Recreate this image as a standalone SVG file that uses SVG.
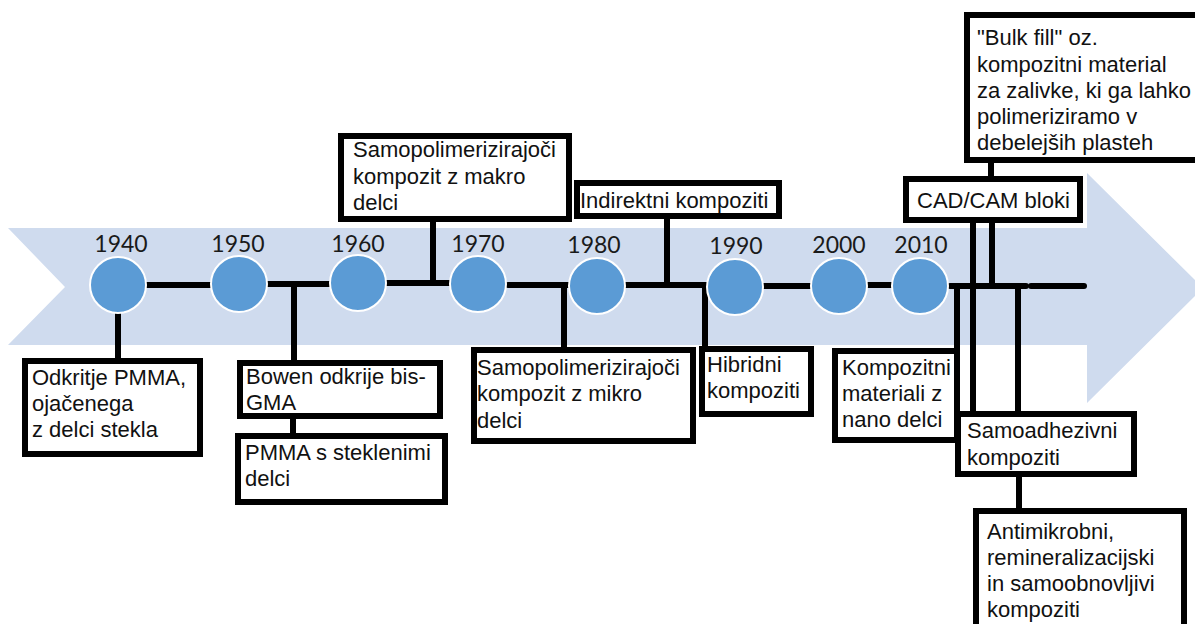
<svg xmlns="http://www.w3.org/2000/svg" width="1195" height="624" viewBox="0 0 1195 624">
<style>
.band{fill:#cfdbee}
.dot{fill:#5b9bd5;stroke:#ffffff;stroke-width:2}
.yr{font-family:Lato,"Open Sans",sans-serif;font-size:23px;fill:#1a1a1a;text-anchor:middle}
.box{fill:#ffffff;stroke:#000000;stroke-width:6}
.t{font-family:"Liberation Sans",Arial,sans-serif;font-size:22px;fill:#111111}
.ln{stroke:#000000;stroke-width:6;fill:none;stroke-linecap:round}
.vl{stroke:#000000;stroke-width:6;fill:none}
</style>
<rect width="1195" height="624" fill="#ffffff"/>
<polygon class="band" points="8,228 1087,228 1087,173 1203,288 1087,403 1087,345 8,345 65,287"/>
<g id="connectors">
<line class="ln" x1="147" y1="285" x2="215" y2="285"/>
<line class="ln" x1="265" y1="284" x2="335" y2="284"/>
<line class="ln" x1="385" y1="283" x2="453" y2="283"/>
<line class="ln" x1="508" y1="285" x2="570" y2="285"/>
<line class="ln" x1="623" y1="285" x2="708" y2="285"/>
<line class="ln" x1="762" y1="286" x2="810" y2="286"/>
<line class="ln" x1="868" y1="285" x2="895" y2="285"/>
<line class="ln" x1="950" y1="286" x2="1026" y2="286"/>
<line class="ln" x1="1031" y1="286" x2="1084" y2="286"/>
<line class="vl" x1="118" y1="312" x2="118" y2="360"/>
<line class="vl" x1="294" y1="284" x2="294" y2="361"/>
<line class="vl" x1="293" y1="418" x2="293" y2="435"/>
<line class="vl" x1="433" y1="283" x2="433" y2="220"/>
<line class="vl" x1="667" y1="285" x2="667" y2="218"/>
<line class="vl" x1="564" y1="285" x2="564" y2="348"/>
<line class="vl" x1="705" y1="285" x2="705" y2="348"/>
<line class="vl" x1="957" y1="286" x2="957" y2="349"/>
<line class="vl" x1="973" y1="222" x2="973" y2="412"/>
<line class="vl" x1="992" y1="222" x2="992" y2="288"/>
<line class="vl" x1="991" y1="162" x2="991" y2="177"/>
<line class="vl" x1="1018" y1="286" x2="1018" y2="412"/>
<line class="vl" x1="1019" y1="476" x2="1019" y2="509"/>
</g>
<g id="y1940"><circle class="dot" cx="118" cy="285" r="28"/><text class="yr" x="121" y="252">1940</text></g>
<g id="y1950"><circle class="dot" cx="239" cy="284" r="28"/><text class="yr" x="238" y="252">1950</text></g>
<g id="y1960"><circle class="dot" cx="358" cy="283" r="28"/><text class="yr" x="358" y="252">1960</text></g>
<g id="y1970"><circle class="dot" cx="478" cy="284" r="28"/><text class="yr" x="478" y="252">1970</text></g>
<g id="y1980"><circle class="dot" cx="597" cy="286" r="28"/><text class="yr" x="594" y="253">1980</text></g>
<g id="y1990"><circle class="dot" cx="735" cy="287" r="28"/><text class="yr" x="736" y="254">1990</text></g>
<g id="y2000"><circle class="dot" cx="839" cy="286" r="28"/><text class="yr" x="839" y="253">2000</text></g>
<g id="y2010"><circle class="dot" cx="920" cy="286" r="28"/><text class="yr" x="921" y="253">2010</text></g>
<g id="n-pmma">
<rect class="box" x="25" y="361" width="175" height="93"/>
<text class="t" x="32" y="385">Odkritje PMMA,</text>
<text class="t" x="32" y="411">ojačenega</text>
<text class="t" x="32" y="437">z delci stekla</text>
</g>
<g id="n-bowen">
<rect class="box" x="240" y="363" width="200" height="53"/>
<text class="t" x="246" y="384">Bowen odkrije bis-</text>
<text class="t" x="246" y="410">GMA</text>
</g>
<g id="n-pmma-s">
<rect class="box" x="238" y="436" width="207" height="66"/>
<text class="t" x="245" y="460">PMMA s steklenimi</text>
<text class="t" x="245" y="486">delci</text>
</g>
<g id="n-makro">
<rect class="box" x="341" y="136" width="228" height="83"/>
<text class="t" x="353" y="157">Samopolimerizirajoči</text>
<text class="t" x="353" y="184">kompozit z makro</text>
<text class="t" x="353" y="210">delci</text>
</g>
<g id="n-indirektni">
<rect class="box" x="577" y="183" width="202" height="33"/>
<text class="t" x="580" y="208">Indirektni kompoziti</text>
</g>
<g id="n-mikro">
<rect class="box" x="474" y="350" width="219" height="91"/>
<text class="t" x="477" y="375">Samopolimerizirajoči</text>
<text class="t" x="477" y="401">kompozit z mikro</text>
<text class="t" x="477" y="428">delci</text>
</g>
<g id="n-hibridni">
<rect class="box" x="702" y="349" width="109" height="65"/>
<text class="t" x="707" y="372">Hibridni</text>
<text class="t" x="707" y="398">kompoziti</text>
</g>
<g id="n-nano">
<rect class="box" x="835" y="351" width="122" height="89"/>
<text class="t" x="842" y="375">Kompozitni</text>
<text class="t" x="842" y="401">materiali z</text>
<text class="t" x="842" y="427">nano delci</text>
</g>
<g id="n-cadcam">
<rect class="box" x="906" y="179" width="174" height="41"/>
<text class="t" x="917" y="208">CAD/CAM bloki</text>
</g>
<g id="n-bulk">
<rect class="box" x="967" y="15" width="236" height="145"/>
<text class="t" x="977" y="45">"Bulk fill" oz.</text>
<text class="t" x="977" y="72">kompozitni material</text>
<text class="t" x="977" y="98">za zalivke, ki ga lahko</text>
<text class="t" x="977" y="124">polimeriziramo v</text>
<text class="t" x="977" y="150">debelejših plasteh</text>
</g>
<g id="n-samoadhezivni">
<rect class="box" x="958" y="414" width="176" height="60"/>
<text class="t" x="967" y="438">Samoadhezivni</text>
<text class="t" x="967" y="465">kompoziti</text>
</g>
<g id="n-antimikrobni">
<rect class="box" x="976" y="511" width="208" height="125"/>
<text class="t" x="987" y="539">Antimikrobni,</text>
<text class="t" x="987" y="565">remineralizacijski</text>
<text class="t" x="987" y="591">in samoobnovljivi</text>
<text class="t" x="987" y="617">kompoziti</text>
</g>
</svg>
